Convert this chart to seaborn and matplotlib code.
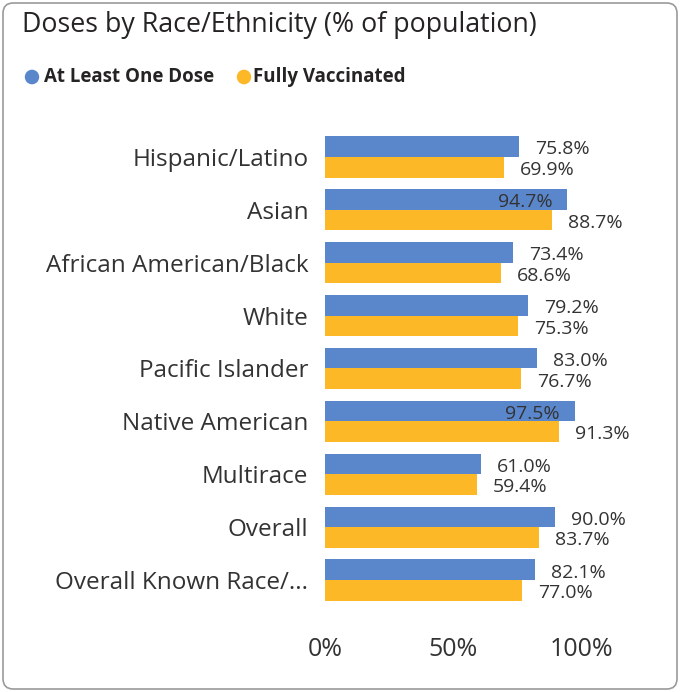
import pandas as pd
import seaborn as sns
import matplotlib.pyplot as plt
from matplotlib.patches import FancyBboxPatch

groups = ['Hispanic/Latino', 'Asian', 'African American/Black', 'White',
          'Pacific Islander', 'Native American', 'Multirace', 'Overall',
          'Overall Known Race/...']
one_dose = [75.8, 94.7, 73.4, 79.2, 83.0, 97.5, 61.0, 90.0, 82.1]
fully_vax = [69.9, 88.7, 68.6, 75.3, 76.7, 91.3, 59.4, 83.7, 77.0]
series = ['At Least One Dose', 'Fully Vaccinated']
colors = ['#5a87cc', '#fdb827']
xticks = [0, 50, 100]

df = pd.DataFrame({'group': groups * 2,
                   'value': one_dose + fully_vax,
                   'series': [series[0]] * len(groups) + [series[1]] * len(groups)})

sns.set_theme(style='white')
plt.rcParams['font.family'] = ['Open Sans', 'DejaVu Sans']

W, H = 680, 692
fig = plt.figure(figsize=(W / 100, H / 100), dpi=100)
fig.patches.append(FancyBboxPatch((3 / W, 3 / H), 674 / W, 686 / H,
                                  boxstyle='round,pad=0,rounding_size=0.015',
                                  transform=fig.transFigure, fc='white',
                                  ec='#9a9a9a', lw=1.2, zorder=-1))

# axes: 0% at x=325, 256px per 100%
ax = fig.add_axes([325 / W, (H - 606.5) / H, 300 / W, 476 / H])
sns.barplot(data=df, y='group', x='value', hue='series', palette=colors,
            orient='h', width=0.78, gap=0, linewidth=0, saturation=1,
            legend=False, ax=ax)
ax.set_xlim(0, 300 / 2.56)
ax.set_ylim(8.5, -0.5)
ax.set_xticks(xticks)
ax.set_xticklabels([f'{t}%' for t in xticks], fontsize=18, color='#333333')
ax.tick_params(axis='x', length=0, pad=22)
ax.tick_params(axis='y', length=0, pad=12, labelsize=17.5, labelcolor='#333333')
ax.set_xlabel('')
ax.set_ylabel('')
for s in ax.spines.values():
    s.set_visible(False)

for cont in ax.containers:
    for bar in cont:
        v = bar.get_width()
        yc = bar.get_y() + bar.get_height() / 2
        if v > 92:
            ax.annotate(f'{v:.1f}%', (v, yc), xytext=(-10.8, -2), textcoords='offset points',
                        ha='right', va='center', fontsize=14, color='#333333')
        else:
            ax.annotate(f'{v:.1f}%', (v, yc), xytext=(11.5, -2), textcoords='offset points',
                        ha='left', va='center', fontsize=14, color='#333333',
                        annotation_clip=False)

fig.text(22 / W, 1 - 25 / H, 'Doses by Race/Ethnicity (% of population)',
         fontsize=19.3, color='#252423', va='center', ha='left')
fig.patches.append(plt.Circle((32 / W, 1 - 77 / H), 6.5 / W, transform=fig.transFigure,
                              color=colors[0]))
fig.text(44 / W, 1 - 77 / H, series[0], fontsize=13.5, fontweight='bold',
         color='#252423', va='center', ha='left')
fig.patches.append(plt.Circle((244 / W, 1 - 77 / H), 6.5 / W, transform=fig.transFigure,
                              color=colors[1]))
fig.text(253 / W, 1 - 77 / H, series[1], fontsize=13.5, fontweight='bold',
         color='#252423', va='center', ha='left')

fig.savefig('out.png', dpi=100)
